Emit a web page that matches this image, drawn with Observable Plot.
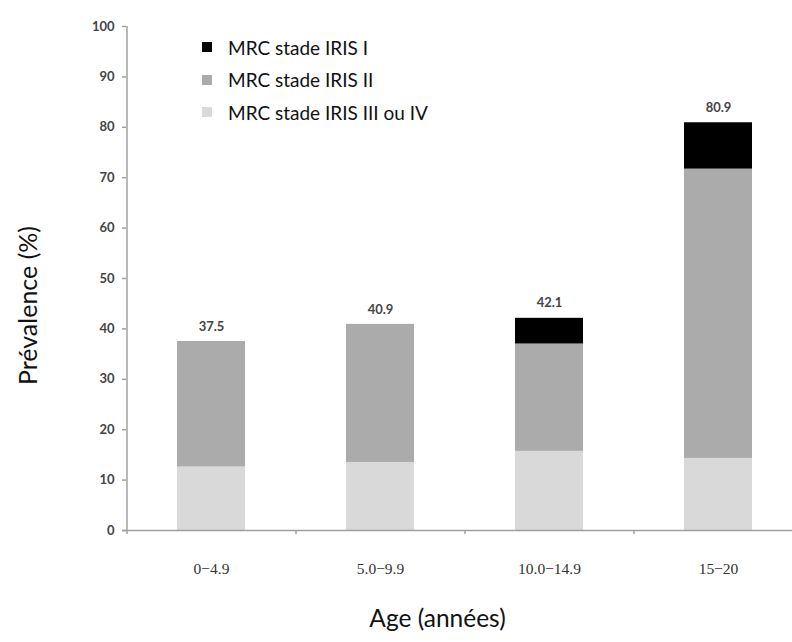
<!DOCTYPE html>
<html>
<head>
<meta charset="utf-8">
<script src="https://cdn.jsdelivr.net/npm/d3@7"></script>
<script src="https://cdn.jsdelivr.net/npm/@observablehq/plot@0.6"></script>
<style>
  html, body { margin: 0; padding: 0; background: #fff; }
  #wrap { position: relative; width: 792px; height: 642px; }
  #legend { position: absolute; left: 202px; top: 31px; font-family: Lato, "Open Sans", sans-serif; font-size: 19px; color: #111; }
  .row { display: flex; align-items: center; height: 32.5px; }
  .sw { width: 10px; height: 10px; margin-right: 16px; }
</style>
</head>
<body>
<div id="wrap"><div id="legend"></div></div>
<script>
const ages = ["0−4.9", "5.0−9.9", "10.0−14.9", "15−20"];
const stages = ["MRC stade IRIS III ou IV", "MRC stade IRIS II", "MRC stade IRIS I"];
const stageColors = ["#d9d9d9", "#ababab", "#000000"];
const stageIIIIV = [12.6, 13.5, 15.7, 14.3];
const stageII = [24.9, 27.4, 21.3, 57.4];
const stageI = [0, 0, 5.1, 9.2];
const totals = [37.5, 40.9, 42.1, 80.9];
const yTicks = [0, 10, 20, 30, 40, 50, 60, 70, 80, 90, 100];

const series = [stageIIIIV, stageII, stageI];
const data = [];
stages.forEach((s, i) => ages.forEach((a, j) => data.push({age: a, stage: s, value: series[i][j]})));
const labels = ages.map((a, j) => ({age: a, total: totals[j]}));

const step = 169;
const sans = "Lato, 'Open Sans', sans-serif";
const chart = Plot.plot({
  width: 792,
  height: 642,
  marginLeft: 126,
  marginRight: 0,
  marginTop: 26,
  marginBottom: 112,
  style: {background: "#fff"},
  x: {domain: ages, range: [126, 126 + 4 * step], paddingInner: 0.6, paddingOuter: 0.3, label: null},
  y: {domain: [0, 100], label: null},
  color: {domain: stages, range: stageColors},
  marks: [
    Plot.barY(data, {x: "age", y: "value", fill: "stage", order: stages}),
    Plot.ruleY([0], {stroke: "#a0a0a0", strokeWidth: 1.5, insetLeft: -4}),
    Plot.ruleX([ages[0]], {dx: -step / 2, y1: 0, y2: 100, stroke: "#a0a0a0", strokeWidth: 1.5}),
    Plot.ruleX(ages, {dx: -step / 2, y1: 0, y2: -0.8, stroke: "#a0a0a0", strokeWidth: 1.5}),
    Plot.axisY({ticks: yTicks, tickSize: 4, tickPadding: 8, stroke: "#a0a0a0", strokeWidth: 1.5,
      fill: "#444", fontSize: 13, fontWeight: "bold", fontFamily: sans, label: null}),
    Plot.axisX({tickSize: 0, tickPadding: 32, fill: "#333", fontSize: 15.5,
      fontFamily: "'Liberation Serif', 'DejaVu Serif', serif", label: null}),
    Plot.text(labels, {x: "age", y: "total", text: d => d.total.toFixed(1), dy: -15,
      fill: "#444", fontSize: 13, fontWeight: "bold", fontFamily: sans}),
    Plot.text(["Age (années)"], {frameAnchor: "bottom", dx: -22, dy: 96, fill: "#111",
      fontSize: 24.5, fontFamily: sans}),
    Plot.text(["Prévalence (%)"], {frameAnchor: "left", textAnchor: "middle", rotate: -90, dx: -98, dy: 27, fill: "#111",
      fontSize: 25, fontFamily: sans})
  ]
});
document.getElementById("wrap").prepend(chart);

const legend = document.getElementById("legend");
stages.slice().reverse().forEach((s, i) => {
  const c = stageColors.slice().reverse()[i];
  const row = document.createElement("div");
  row.className = "row";
  row.innerHTML = `<div class="sw" style="background:${c}"></div><span>${s}</span>`;
  legend.appendChild(row);
});
</script>
</body>
</html>
